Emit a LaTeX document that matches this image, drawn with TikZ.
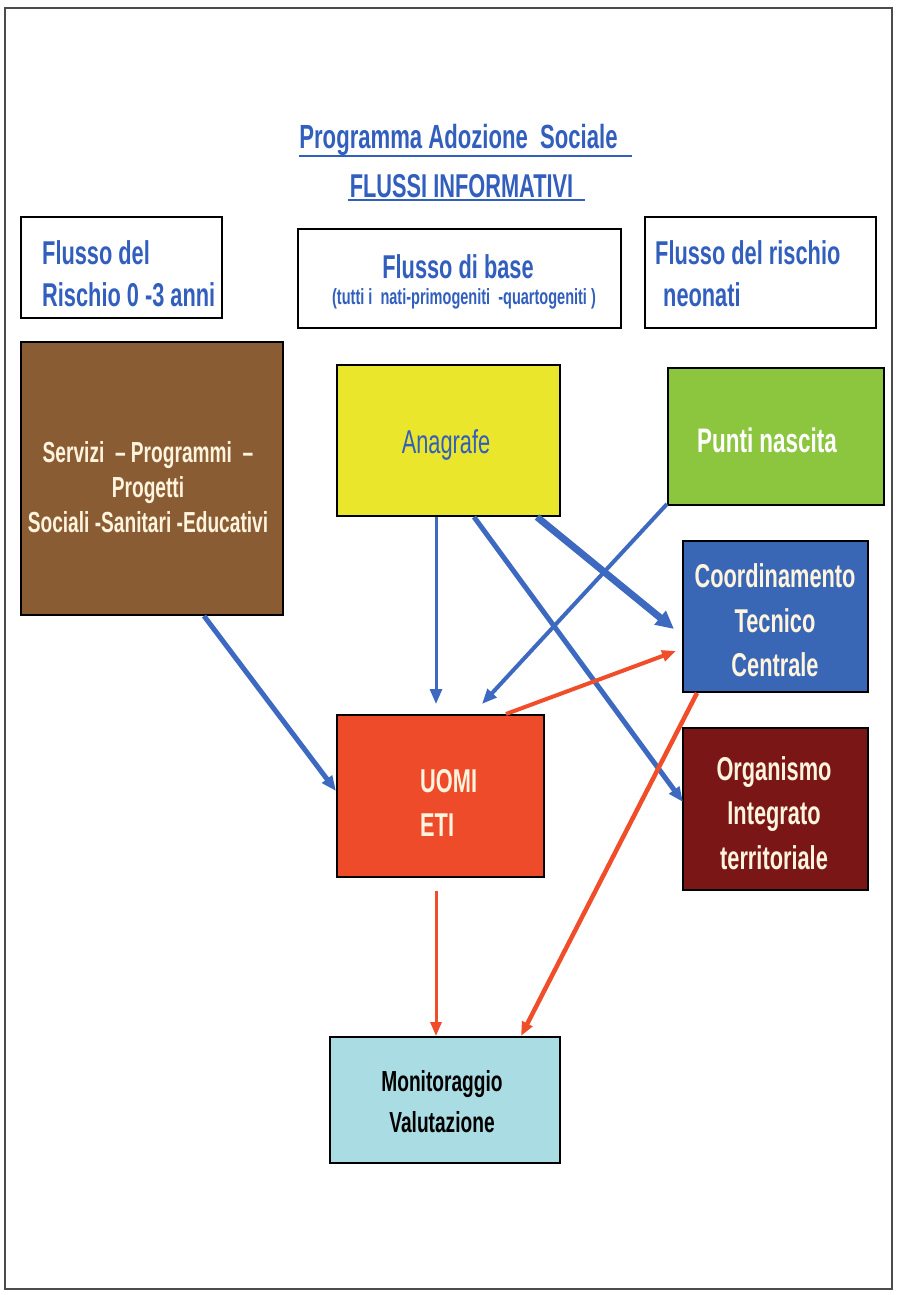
\documentclass[tikz,border=0pt]{standalone}
\usepackage{fontspec}
\setmainfont[FakeStretch=0.66]{Liberation Sans}
\usetikzlibrary{arrows.meta,calc}
\definecolor{tblue}{RGB}{50,95,190}
\definecolor{abl}{RGB}{61,105,192}
\definecolor{ared}{RGB}{240,78,42}
\definecolor{brn}{RGB}{138,92,52}
\definecolor{cream}{RGB}{255,244,222}
\definecolor{yel}{RGB}{234,230,43}
\definecolor{grn}{RGB}{140,198,63}
\definecolor{cblue}{RGB}{58,103,181}
\definecolor{dred}{RGB}{122,22,22}
\definecolor{ured}{RGB}{238,75,43}
\definecolor{lblue}{RGB}{170,220,227}
\begin{document}
\begin{tikzpicture}[x=1pt,y=-1pt,
  box/.style={draw=black, line width=2pt, inner sep=0pt, anchor=center},
  txt/.style={inner sep=0pt},
  hfont/.style={font=\fontsize{33}{42}\selectfont\bfseries, text=tblue},
  wfont/.style={font=\fontsize{33}{44.5}\selectfont\bfseries, text=cream},
  barr/.style={draw=abl, -{Triangle[length=15pt,width=12pt]}},
  rarr/.style={draw=ared, -{Triangle[length=14pt,width=11pt]}}]
\useasboundingbox (0,0) rectangle (897,1295);
\fill[white] (0,0) rectangle (897,1295);
\draw[black!70, line width=1.8pt] (5,8) rectangle (892,1289);

% title
\node[txt, font=\fontsize{33.5}{40}\selectfont\bfseries, text=tblue, anchor=base] (t1) at (458.5,149) {Programma Adozione\ \ Sociale};
\node[txt, font=\fontsize{33}{40}\selectfont\bfseries, text=tblue, anchor=base] (t2) at (461.5,197) {FLUSSI INFORMATIVI};
\draw[tblue, line width=2.5pt] ($(t1.base west)+(0,7)$) -- ($(t1.base east)+(14,7)$);
\draw[tblue, line width=2.5pt] ($(t2.base west)+(-2,3)$) -- ($(t2.base east)+(12,3)$);

% header boxes
\node[box, minimum width=201pt, minimum height=101pt] (hl) at (121.5,267.5) {};
\node[box, minimum width=323pt, minimum height=99pt] (hm) at (459.5,278.5) {};
\node[box, minimum width=231pt, minimum height=111pt] (hr) at (760.5,272.5) {};
\node[txt, hfont, align=left, anchor=west] (hlT) at (42,274) {Flusso del\\Rischio 0 -3 anni};
\node[txt, hfont, anchor=base] (hmT) at (458,278) {Flusso di base};
\node[txt, font=\fontsize{22}{26}\selectfont\bfseries, text=tblue, anchor=base] (hmS) at (464,304) {(tutti i\ \ nati-primogeniti\ \ -quartogeniti )};
\node[txt, hfont, align=left, anchor=west] (hrT) at (655,274) {Flusso del rischio\\\hspace*{8pt}neonati};

% coloured boxes
\node[box, fill=brn, minimum width=262pt, minimum height=273pt] (srv) at (152,478.5) {};
\node[box, fill=yel, minimum width=223pt, minimum height=151pt] (ana) at (448.5,440.5) {};
\node[box, fill=grn, minimum width=216pt, minimum height=137pt] (punti) at (776,436.5) {};
\node[box, fill=cblue, minimum width=185pt, minimum height=151pt] (coord) at (775.5,616.5) {};
\node[box, fill=dred, minimum width=185pt, minimum height=162pt] (org) at (775.5,809) {};
\node[box, fill=ured, minimum width=207pt, minimum height=162pt] (uomi) at (440.5,796) {};
\node[box, fill=lblue, minimum width=230pt, minimum height=126pt] (mon) at (445,1100) {};

\node[txt, font=\fontsize{29}{35}\selectfont\bfseries, text=cream, align=center] (srvT) at (148,487.5) {Servizi\ \ – Programmi\ \ –\\Progetti\\Sociali -Sanitari -Educativi};
\node[txt, font=\fontsize{33}{40}\selectfont, text=tblue, anchor=base] (anaT) at (446,453) {Anagrafe};
\node[txt, font=\fontsize{34}{40}\selectfont\bfseries, text=white, anchor=base] (puntiT) at (767,452) {Punti nascita};
\node[txt, wfont, align=center] (coordT) at (775,620.5) {Coordinamento\\Tecnico\\Centrale};
\node[txt, wfont, align=center] (orgT) at (774,813) {Organismo\\Integrato\\territoriale};
\node[txt, wfont, align=left, anchor=west] (uomiT) at (420,803) {UOMI\\ETI};
\node[txt, font=\fontsize{29}{41}\selectfont\bfseries, text=black, align=center] (monT) at (442,1102) {Monitoraggio\\Valutazione};

% connectors
\draw[barr, line width=5pt] ($(srv.south west)+(184,0)$) -- ($(uomi.north west)+(0,77)$);
\draw[barr, line width=3pt] ($(ana.south west)+(100,0)$) -- ($(uomi.north west)+(100,-10)$);
\draw[barr, line width=5pt] ($(ana.south west)+(138,0)$) -- ($(org.north west)+(1,75)$);
\draw[draw=abl, line width=7pt, -{Triangle[length=18pt,width=17pt]}] ($(ana.south west)+(201,0)$) -- ($(coord.north west)+(-8,89)$);
\draw[barr, line width=4pt] ($(punti.south west)+(0,-2)$) -- ($(uomi.north west)+(146,-10)$);
\draw[rarr, line width=4pt] ($(uomi.north west)+(170,0)$) -- ($(coord.north west)+(-6,111)$);
\draw[rarr, line width=3pt] ($(uomi.south west)+(100,13)$) -- ($(mon.north west)+(107,0)$);
\draw[rarr, line width=4.5pt] ($(coord.south west)+(15,0)$) -- ($(mon.north west)+(192,0)$);
\end{tikzpicture}
\end{document}
